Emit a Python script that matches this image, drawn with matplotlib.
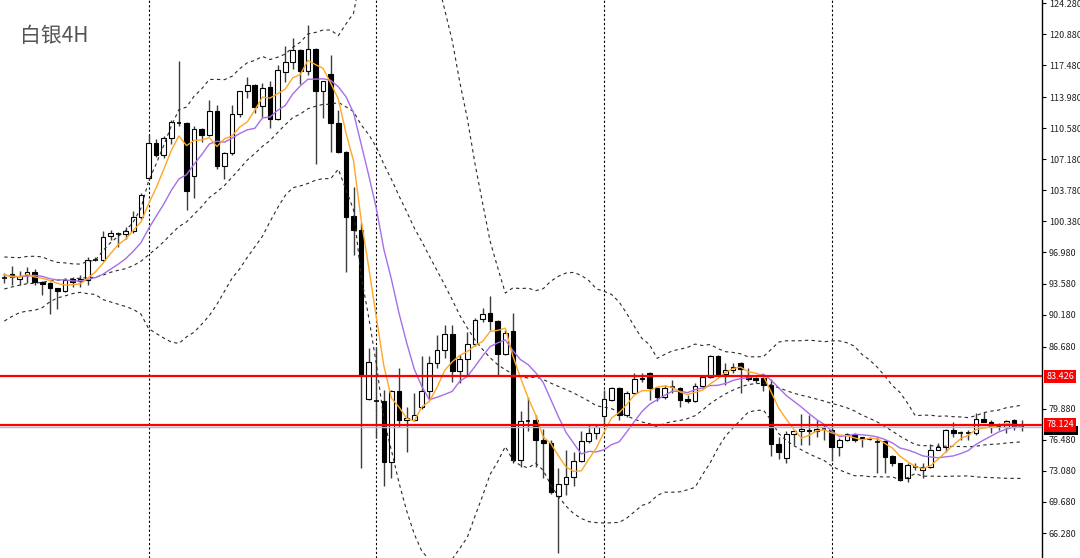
"""
白银4H K线图：布林带(20,2) + MA5 / MA10 + 水平价位线
"""
import numpy as np
import pandas as pd
import matplotlib
matplotlib.use('Agg')
import matplotlib.pyplot as plt
from matplotlib.patches import Rectangle

plt.rcParams['font.family'] = ['Noto Sans CJK SC', 'DejaVu Sans']

# K线数据（从图上读取，逐根 4H）
opens = [94.1, 94.6, 94.1, 94.5, 94.9, 93.8, 93.6, 93.1, 92.8, 94.1,
         93.9, 94.0, 96.3, 96.2, 98.8, 99.1, 99.0, 99.3, 100.9, 105.1,
         109.0, 107.7, 109.5, 111.3, 111.2, 105.4, 110.5, 109.8, 112.5, 106.4,
         107.9, 112.1, 114.6, 115.3, 113.0, 115.1, 111.6, 116.7, 117.8, 119.1,
         116.8, 119.3, 114.7, 116.5, 111.1, 108.0, 101.0, 99.4, 81.0, 80.8,
         80.7, 74.1, 81.8, 78.7, 78.7, 80.1, 81.8, 84.9, 86.3, 88.1,
         84.0, 85.3, 87.0, 89.7, 90.4, 89.5, 85.9, 88.4, 74.3, 78.6,
         78.7, 76.5, 76.1, 70.3, 71.7, 72.4, 74.2, 76.3, 77.2, 79.1,
         80.8, 82.1, 79.2, 81.6, 83.1, 83.8, 82.1, 81.2, 82.2, 82.1,
         80.9, 80.7, 82.4, 83.4, 85.7, 83.7, 84.1, 84.9, 83.4, 83.2,
         83.2, 82.5, 76.0, 74.5, 77.1, 77.4, 77.6, 77.5, 77.6, 77.6,
         75.7, 76.5, 77.1, 76.8, 76.7, 76.3, 76.3, 74.7, 74.0, 72.3,
         73.6, 73.2, 73.5, 75.4, 75.7, 77.6, 77.3, 77.3, 77.2, 78.8,
         78.4, 77.9, 77.9, 78.7, 78.0]
highs = [94.7, 95.5, 95.0, 95.4, 95.2, 93.9, 93.8, 93.1, 94.2, 94.3,
         94.5, 96.5, 96.5, 99.3, 99.4, 99.2, 99.8, 101.5, 103.5, 109.8,
         109.4, 109.7, 111.5, 117.9, 111.3, 110.8, 110.6, 113.7, 113.1, 108.0,
         113.1, 114.7, 116.2, 115.4, 115.5, 115.7, 117.5, 119.6, 120.5, 119.2,
         121.9, 119.4, 115.7, 118.6, 112.6, 108.1, 104.2, 100.2, 86.5, 86.6,
         81.9, 81.9, 84.3, 80.1, 81.6, 85.6, 85.6, 88.0, 89.0, 89.0,
         85.8, 88.3, 89.8, 90.9, 92.2, 89.6, 88.5, 90.4, 79.6, 81.2,
         79.2, 77.7, 76.5, 73.4, 75.4, 75.2, 77.4, 78.1, 78.1, 81.9,
         82.3, 82.3, 81.8, 83.8, 83.8, 83.9, 82.3, 82.5, 83.0, 82.3,
         81.4, 82.7, 83.5, 85.8, 85.8, 84.9, 84.9, 85.0, 84.3, 83.4,
         83.4, 83.1, 76.8, 77.4, 77.6, 79.3, 79.2, 78.7, 78.1, 78.1,
         76.7, 77.2, 77.2, 76.8, 76.8, 76.8, 76.5, 74.8, 74.0, 74.0,
         74.0, 74.0, 76.0, 76.1, 77.7, 78.4, 77.4, 77.6, 79.4, 79.5,
         78.7, 78.3, 78.7, 78.8, 78.6]
lows = [93.6, 93.4, 93.4, 93.6, 93.4, 92.3, 90.3, 90.8, 92.7, 93.2,
        93.2, 93.4, 96.0, 96.1, 98.3, 97.6, 98.5, 99.1, 100.7, 104.9,
        107.4, 107.3, 108.9, 110.8, 101.6, 102.9, 109.1, 109.7, 106.1, 105.0,
        107.7, 111.8, 113.9, 112.2, 111.8, 110.6, 111.5, 115.6, 117.1, 115.4,
        116.4, 106.7, 111.7, 108.0, 107.9, 94.9, 96.7, 73.4, 80.8, 76.7,
        71.4, 72.3, 77.9, 75.2, 78.5, 79.9, 80.8, 84.3, 85.4, 82.8,
        82.7, 83.6, 86.7, 89.4, 88.5, 83.6, 85.8, 74.0, 73.5, 77.4,
        73.5, 72.3, 70.6, 64.1, 70.4, 71.4, 74.1, 76.1, 76.6, 77.9,
        80.7, 78.7, 79.0, 81.5, 82.8, 80.8, 80.7, 81.0, 81.6, 80.1,
        80.5, 80.6, 82.1, 83.2, 83.6, 82.5, 83.8, 81.6, 82.9, 82.7,
        81.8, 74.7, 74.4, 73.9, 75.9, 75.9, 75.9, 76.8, 76.5, 74.2,
        74.7, 76.3, 76.2, 75.7, 76.5, 72.8, 72.8, 73.6, 72.0, 71.9,
        73.2, 72.3, 73.4, 75.4, 75.2, 76.8, 76.5, 76.5, 77.0, 78.4,
        77.2, 77.6, 77.2, 77.6, 77.4]
closes = [94.2, 94.3, 94.4, 94.9, 93.7, 93.5, 93.1, 92.8, 94.0, 93.8,
          94.1, 96.2, 96.2, 98.7, 99.1, 99.0, 99.3, 100.9, 103.3, 109.0,
          107.7, 109.5, 111.3, 111.2, 103.7, 110.5, 109.8, 112.5, 106.4, 107.9,
          112.1, 114.6, 115.3, 112.9, 115.0, 111.6, 117.0, 117.8, 119.1, 116.8,
          119.3, 114.7, 115.7, 111.1, 108.0, 100.9, 99.4, 83.6, 85.0, 80.7,
          74.1, 81.8, 78.7, 78.9, 79.2, 81.8, 84.9, 86.3, 88.1, 84.0,
          85.3, 87.0, 89.6, 90.3, 89.5, 85.9, 88.2, 74.3, 78.5, 78.5,
          76.5, 76.1, 70.8, 71.7, 72.4, 74.2, 76.3, 77.2, 77.9, 80.9,
          82.1, 79.2, 81.6, 83.1, 83.3, 82.1, 81.2, 82.2, 82.3, 80.8,
          80.7, 82.4, 83.4, 85.7, 83.7, 84.1, 84.5, 84.2, 83.1, 83.0,
          82.5, 76.0, 75.2, 77.1, 77.4, 77.7, 77.4, 77.7, 77.7, 75.7,
          76.5, 77.1, 76.5, 76.6, 76.6, 76.2, 74.6, 73.9, 72.1, 73.7,
          73.5, 73.5, 75.4, 75.7, 77.6, 77.2, 77.2, 77.2, 78.8, 78.4,
          77.9, 78.0, 78.5, 77.9, 77.9]

# 图左侧之前的收盘价（图中不可见，只用来预热均线和布林带，按起点处指标位置估计）
warmup_closes = [89.0, 89.8, 90.5, 91.8, 92.6, 91.4, 90.2, 91.0, 92.4, 92.3,
                 93.0, 94.8, 95.6, 93.9, 92.9, 94.6, 95.7, 94.2, 93.8, 95.0]

week_starts = [19, 49, 79, 109]          # 周分隔线所在K线
level_lines = [83.426, 78.124]           # 红色水平线
last_price = 77.872
y_ticks = [124.28, 120.88, 117.48, 113.98, 110.58, 107.18, 103.78, 100.38,
           96.98, 93.58, 90.18, 86.68, 79.88, 76.48, 73.08, 69.68, 66.28]


def indicators():
    """计算 MA5、MA10 与布林带(20, 2)"""
    n_warm = len(warmup_closes)
    s = pd.Series(warmup_closes + closes)
    ma5 = s.rolling(5).mean().iloc[n_warm:].values
    ma10 = s.rolling(10).mean().iloc[n_warm:].values
    mid = s.rolling(20).mean().iloc[n_warm:].values
    std = s.rolling(20).std(ddof=0).iloc[n_warm:].values
    return ma5, ma10, mid, mid + 2 * std, mid - 2 * std


def draw_candles(ax, width=0.62):
    for i, (o, h, l, c) in enumerate(zip(opens, highs, lows, closes)):
        ax.vlines(i, l, h, color='#3c3c3c', lw=1.0, zorder=2)
        if abs(c - o) < 0.12:
            ax.hlines(c, i - width / 2, i + width / 2, color='black', lw=1.2, zorder=3)
        else:
            face = 'white' if c > o else 'black'
            ax.add_patch(Rectangle((i - width / 2, min(o, c)), width, abs(c - o),
                                   facecolor=face, edgecolor='black', lw=0.8, zorder=3))


def main():
    fig = plt.figure(figsize=(10.8, 5.58), dpi=100)
    ax = fig.add_axes([0, 0, 1042 / 1080, 1])

    x = np.arange(len(closes))
    ma5, ma10, mid, upper, lower = indicators()

    # 周分隔线
    for w in week_starts:
        ax.axvline(w, color='black', lw=0.8, ls=(0, (2, 2)), zorder=1)

    draw_candles(ax)

    # 布林带
    for band in (upper, mid, lower):
        ax.plot(x, band, color='#2a2a2a', lw=0.8, ls=(0, (3, 3)), zorder=4)

    ax.plot(x, ma10, color='#a66ee8', lw=1.0, zorder=5)
    ax.plot(x, ma5, color='#ffa726', lw=1.0, zorder=6)

    # 水平价位线
    ax.axhline(last_price, color='#b4bccb', lw=1.0, zorder=6)
    for v in level_lines:
        ax.axhline(v, color='#ff0000', lw=1.6, zorder=7)

    ax.set_xlim(-0.57, 136.7)
    ax.set_ylim(63.55, 124.61)

    ax.yaxis.tick_right()
    ax.set_yticks(y_ticks)
    ax.set_yticklabels([f'{t:.3f}' for t in y_ticks])
    ax.tick_params(axis='y', length=3, width=0.8, labelsize=6.5, pad=2,
                   colors='black', labelcolor='#222222')
    ax.set_xticks([])
    for side in ('top', 'left', 'bottom'):
        ax.spines[side].set_visible(False)
    ax.spines['right'].set_linewidth(1.0)

    # 右侧价格标签：当前价的黑色标签几乎被红色标签盖住，只露出下沿
    trans = ax.get_yaxis_transform()
    ax.add_patch(Rectangle((1.002, last_price - 0.85), 0.033, 0.95, transform=trans,
                           facecolor='black', edgecolor='none', clip_on=False, zorder=8))
    for v in level_lines:
        ax.text(1.004, v, f'{v:.3f}', transform=trans, fontsize=6.5, color='white',
                va='center', ha='left', clip_on=False,
                bbox=dict(boxstyle='square,pad=0.25', fc='#ff0000', ec='none'), zorder=9)

    fig.text(20 / 1080, 1 - 36 / 558, '白银4H', fontsize=15, color='#555555',
             va='center', ha='left')

    fig.savefig('out.png', dpi=100)


if __name__ == "__main__":
    main()
